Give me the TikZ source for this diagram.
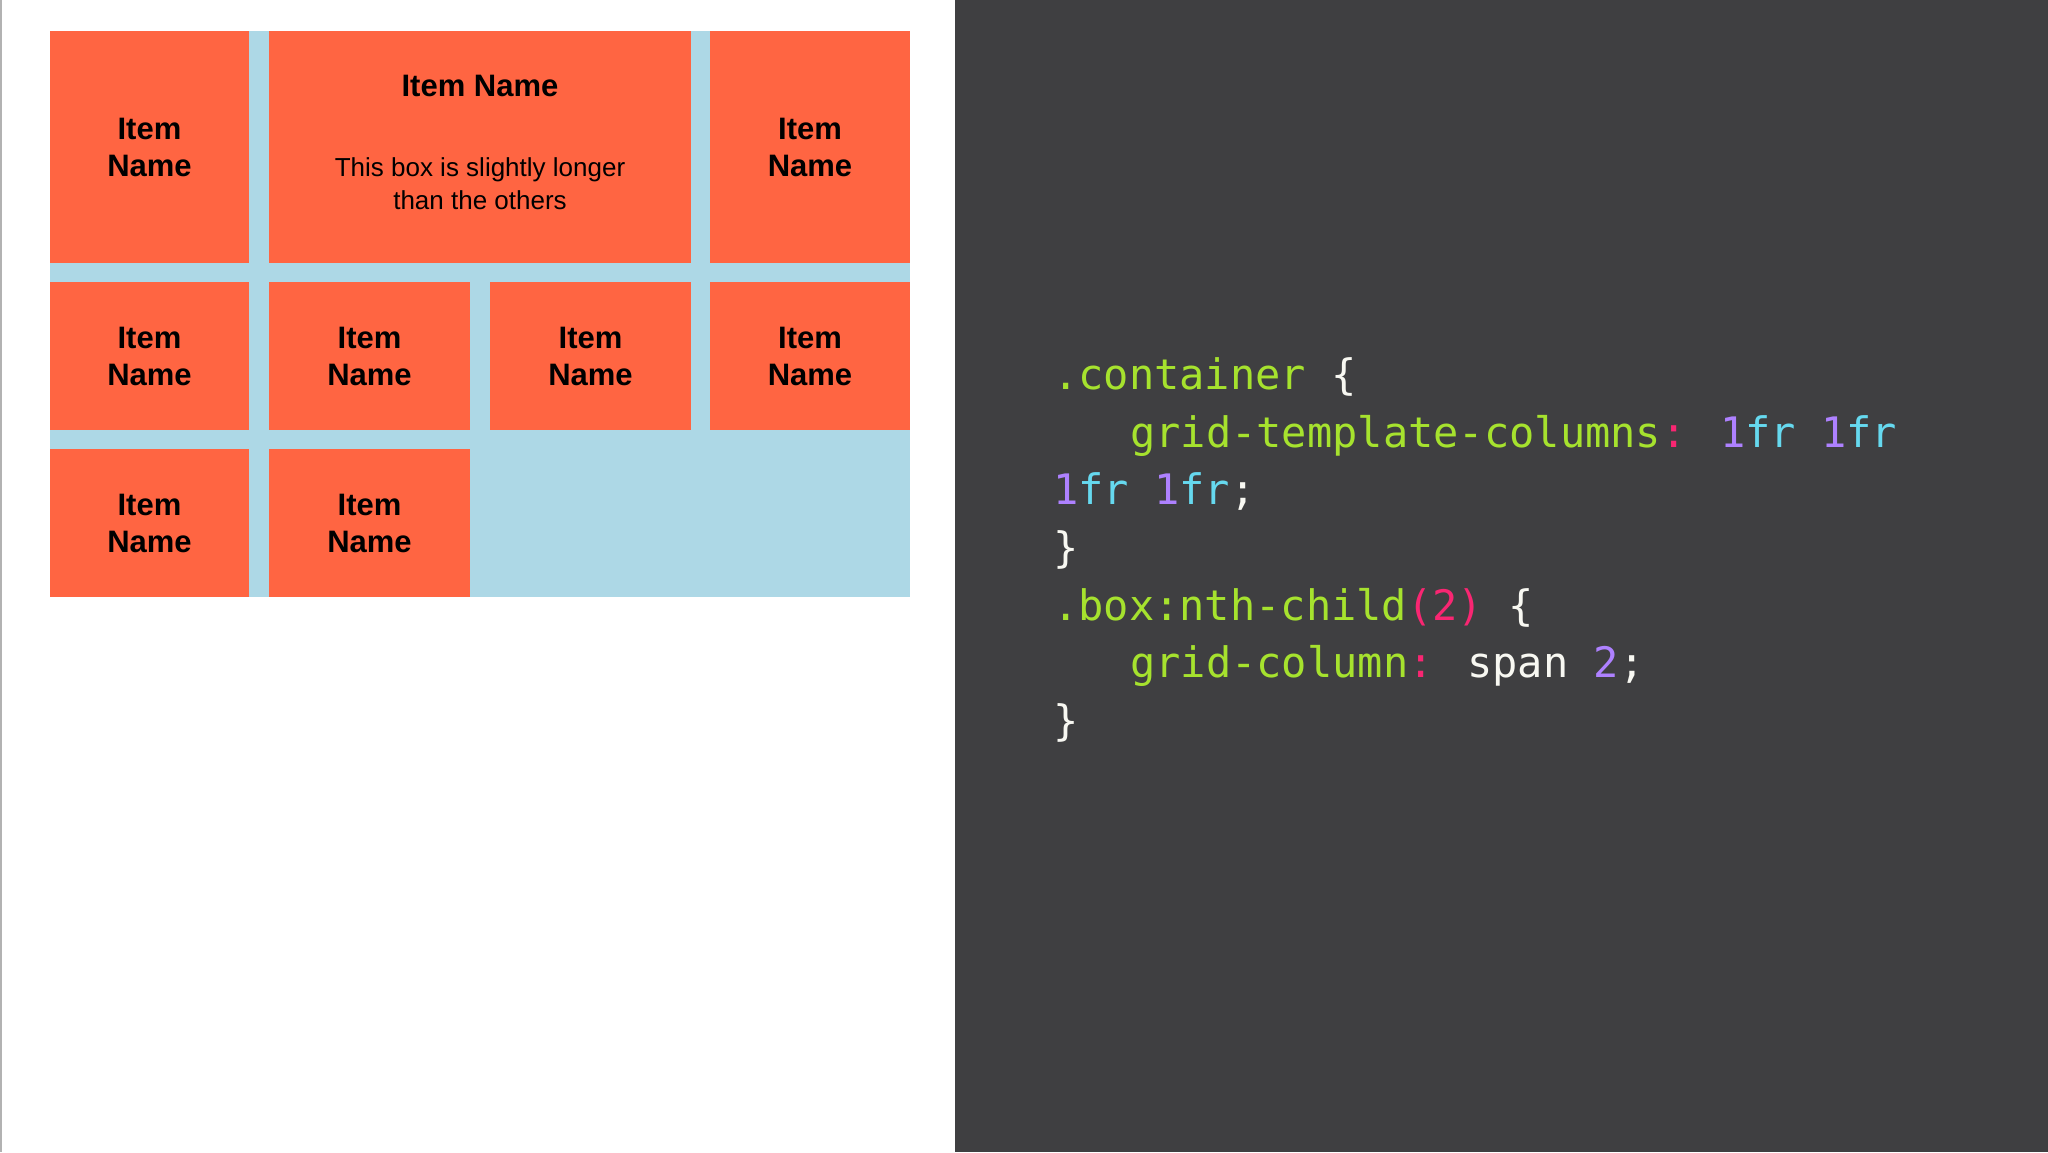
\documentclass[tikz,border=0pt]{standalone}
\usepackage{fontspec}
\setmainfont{Liberation Sans}
\newfontfamily\codefont{DejaVu Sans Mono}
\definecolor{bgdark}{HTML}{3F3F41}
\definecolor{gridbg}{HTML}{ADD8E6}
\definecolor{boxc}{HTML}{FF6542}
\definecolor{cg}{HTML}{A6E22E}
\definecolor{cp}{HTML}{F92672}
\definecolor{cv}{HTML}{AE81FF}
\definecolor{cc}{HTML}{66D9EF}
\definecolor{cw}{HTML}{F8F8F2}
\begin{document}
\begin{tikzpicture}[x=1pt,y=-1pt,
  item/.style={fill=boxc,draw=none},
  lbl/.style={font=\fontsize{31}{37}\selectfont\bfseries,align=center,text=black},
  code/.style={anchor=base west,inner sep=0,font=\codefont\fontsize{42}{50}\selectfont,text=cw}]
\useasboundingbox (0,0) rectangle (2048,1152);
\fill[white] (0,0) rectangle (955,1152);
\draw[gray!60,line width=1.5] (1,0) -- (1,1152);
\fill[bgdark] (955,0) rectangle (2048,1152);
\fill[gridbg] (50,31) rectangle (910,597);
% row 1
\fill[item] (50,31) rectangle (249,263);
\node[lbl] (a1) at (149.5,147) {Item\\Name};
\fill[item] (269,31) rectangle (691,263);
\node[lbl] (a2) at (480,86) {Item Name};
\node[font=\fontsize{26}{33}\selectfont,align=center] (a2t) at (480,184) {This box is slightly longer\\than the others};
\fill[item] (710,31) rectangle (910,263);
\node[lbl] (a3) at (810,147) {Item\\Name};
% row 2
\fill[item] (50,282) rectangle (249,430);
\node[lbl] (b1) at (149.5,356) {Item\\Name};
\fill[item] (269,282) rectangle (470,430);
\node[lbl] (b2) at (369.5,356) {Item\\Name};
\fill[item] (490,282) rectangle (691,430);
\node[lbl] (b3) at (590.5,356) {Item\\Name};
\fill[item] (710,282) rectangle (910,430);
\node[lbl] (b4) at (810,356) {Item\\Name};
% row 3
\fill[item] (50,449) rectangle (249,597);
\node[lbl] (c1) at (149.5,523) {Item\\Name};
\fill[item] (269,449) rectangle (470,597);
\node[lbl] (c2) at (369.5,523) {Item\\Name};
% code
\node[code] (l1) at (1053,389) {\textcolor{cg}{.container} \{};
\node[code] (l2) at (1130,447) {\textcolor{cg}{grid-template-columns}\textcolor{cp}{:} \textcolor{cv}{1}\textcolor{cc}{fr} \textcolor{cv}{1}\textcolor{cc}{fr}};
\node[code] (l3) at (1053,504) {\textcolor{cv}{1}\textcolor{cc}{fr} \textcolor{cv}{1}\textcolor{cc}{fr};};
\node[code] (l4) at (1053,562) {\}};
\node[code] (l5) at (1053,620) {\textcolor{cg}{.box:nth-child}\textcolor{cp}{(2)} \{};
\node[code] (l6) at (1130,677) {\textcolor{cg}{grid-column}\textcolor{cp}{:} span \textcolor{cv}{2};};
\node[code] (l7) at (1053,735) {\}};
\end{tikzpicture}
\end{document}
